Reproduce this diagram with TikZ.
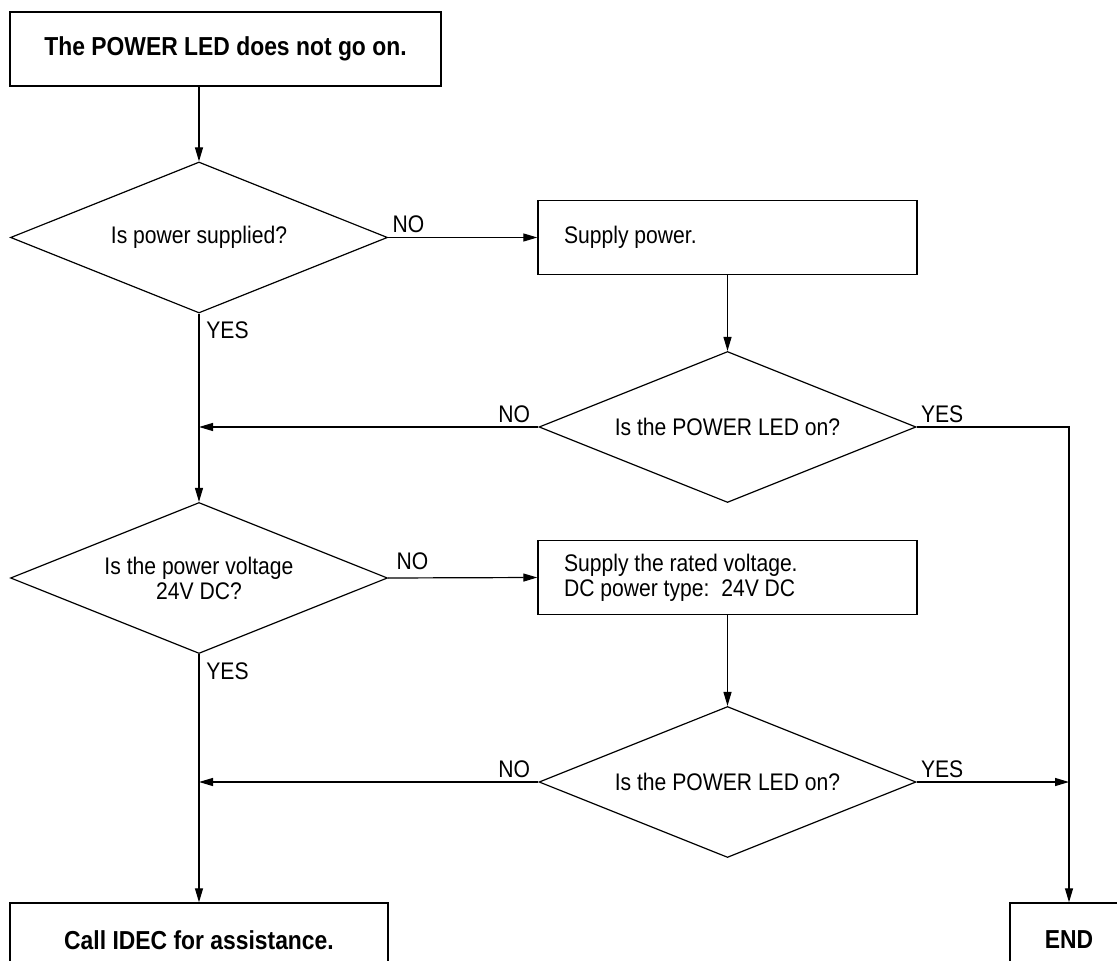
\documentclass[tikz,border=0pt]{standalone}
\usepackage{fontspec}
\setmainfont{Liberation Sans}[FakeStretch=0.88]
\usetikzlibrary{shapes.geometric,arrows.meta}

\tikzset{
  box/.style={draw, line width=0.7pt, minimum height=37pt, inner sep=0pt},
  title/.style={font=\bfseries\fontsize{13}{15}\selectfont},
  action/.style={box, minimum width=189.5pt, text width=163.5pt, inner xsep=13pt,
    align=flush left, font=\fontsize{12}{12.5}\selectfont},
  decision/.style={draw, diamond, aspect=2.5, line width=0.6pt, minimum width=188.5pt,
    minimum height=75.5pt, inner sep=0pt, align=center, font=\fontsize{12}{12.5}\selectfont},
  answer/.style={font=\fontsize{12}{14}\selectfont, inner sep=1pt},
  flow/.style={-{Triangle[length=7pt,width=4pt]}, line width=0.6pt}
}

\begin{document}
\begin{tikzpicture}[x=0.5pt, y=-0.5pt]
            \pgfmathsetmacro{\xl}{199};
            \pgfmathsetmacro{\xm}{727.5};
            \pgfmathsetmacro{\xr}{1069};
            \useasboundingbox (0,0) rectangle (1117,961);
            \clip (0,0) rectangle (1117,961);
            % boxes and questions
            \node [box, title, minimum width=215.5pt] (start) at (225.5,49) {The POWER LED does not go on.};
            \node [decision] (qsup) at (\xl,237.5) {Is power supplied?};
            \node [action] (supply) at (\xm,237.5) {Supply power.};
            \node [decision] (qled1) at (\xm,427) {Is the POWER LED on?};
            \node [decision] (qvolt) at (\xl,578) {Is the power voltage\\24V DC?};
            \node [action] (rated) at (\xm,577.5) {Supply the rated voltage.\\DC power type:\ \ 24V DC};
            \node [decision] (qled2) at (\xm,782) {Is the POWER LED on?};
            \node [box, title, minimum width=189pt] (call) at (\xl,940) {Call IDEC for assistance.};
            \node [box, title, minimum width=59pt] (done) at (\xr,940) {END};
            % connectors
            \draw [flow] (start.south -| qsup.north) -- (qsup.north);
            \draw [flow] (qsup.east) -- (supply.west);
            \draw [flow] (supply.south) -- (qled1.north);
            \draw [flow] (qled1.west) -- (qled1.west -| qsup.south);
            \draw [flow] (qled1.east) -| (done.north);
            \draw [flow] (qsup.south) -- (qvolt.north);
            \draw [flow] (qvolt.east) -- (rated.west);
            \draw [flow] (rated.south) -- (qled2.north);
            \draw [flow] (qled2.west) -- (qled2.west -| qvolt.south);
            \draw [flow] (qled2.east) -- (qled2.east -| done.north);
            \draw [flow] (qvolt.south) -- (call.north);
            % answers
            \node [answer, anchor=south west] (no1) at ([xshift=1pt,yshift=1pt]qsup.east) {NO};
            \node [answer, anchor=north west] (yes1) at ([xshift=2.5pt,yshift=-3pt]qsup.south) {YES};
            \node [answer, anchor=south east] (no2) at ([xshift=-3pt,yshift=1pt]qled1.west) {NO};
            \node [answer, anchor=south west] (yes2) at ([xshift=1pt,yshift=1pt]qled1.east) {YES};
            \node [answer, anchor=south west] (no3) at ([xshift=3pt,yshift=3pt]qvolt.east) {NO};
            \node [answer, anchor=north west] (yes3) at ([xshift=2.5pt,yshift=-3pt]qvolt.south) {YES};
            \node [answer, anchor=south east] (no4) at ([xshift=-3pt,yshift=1pt]qled2.west) {NO};
            \node [answer, anchor=south west] (yes4) at ([xshift=1pt,yshift=1pt]qled2.east) {YES};
        \end{tikzpicture}
\end{document}
